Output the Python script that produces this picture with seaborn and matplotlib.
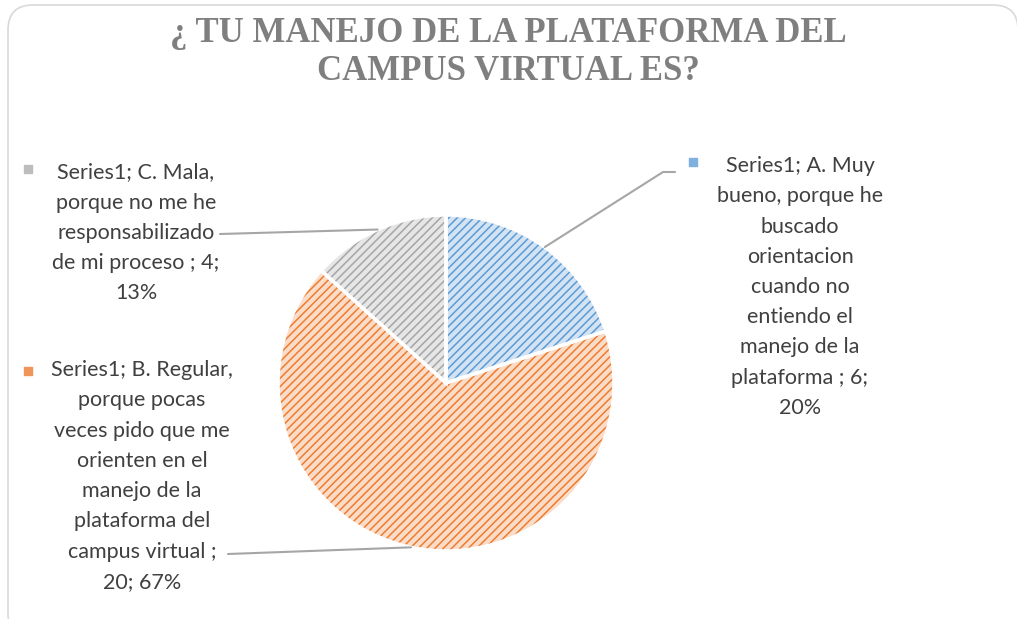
import numpy as np
import matplotlib.pyplot as plt
import seaborn as sns
from matplotlib.patches import Wedge, FancyBboxPatch

# data
categories = ["A. Muy bueno", "B. Regular", "C. Mala"]
counts = [6, 20, 4]
label_texts = [
    "Series1; A. Muy\nbueno, porque he\nbuscado\norientacion\ncuando no\nentiendo el\nmanejo de la\nplataforma ; 6;\n20%",
    "Series1; B. Regular,\nporque pocas\nveces pido que me\norienten en el\nmanejo de la\nplataforma del\ncampus virtual ;\n20; 67%",
    "Series1; C. Mala,\nporque no me he\nresponsabilizado\nde mi proceso ; 4;\n13%",
]
title_lines = ["¿ TU MANEJO DE LA PLATAFORMA DEL", "CAMPUS VIRTUAL ES?"]

fill_colors = ["#d3e3f4", "#fbdcc8", "#e6e6e6"]
hatch_colors = ["#5b9bd5", "#ed7d31", "#a5a5a5"]
marker_colors = ["#7fb0e0", "#f0955a", "#bdbdbd"]

sns.set_theme(style="white")
plt.rcParams["hatch.linewidth"] = 1.1
plt.rcParams["font.family"] = ["Lato", "DejaVu Sans"]

W, H = 1017, 619
fig = plt.figure(figsize=(W / 100, H / 100), dpi=100)
ax = fig.add_axes([0, 0, 1, 1])

# outer rounded frame
frame = FancyBboxPatch((8, -20), 1010, 634, boxstyle="round,pad=0,rounding_size=25",
                       fc="white", ec="#d9d9d9", lw=1.2, zorder=0)
ax.add_patch(frame)

cx, cy, r = 446, H - 383, 168
wedges, _ = ax.pie(counts, startangle=90, counterclock=False, center=(cx, cy), radius=r,
                   colors=fill_colors, wedgeprops=dict(linewidth=0))
for w, hc in zip(wedges, hatch_colors):
    ax.add_patch(Wedge(w.center, w.r, w.theta1, w.theta2, fill=False, hatch="////",
                       edgecolor=hc, lw=0, zorder=3))
    ax.add_patch(Wedge(w.center, w.r, w.theta1, w.theta2, fill=False,
                       edgecolor="white", lw=2.5, zorder=4))

# labels, markers and leader lines
label_pos = [(800, H - 287), (142, H - 476), (136, H - 233)]
marker_pos = [(693, H - 162), (28, H - 371), (28, H - 169)]
line_ends = [[(663, H - 172), (675, H - 172)], [(228, H - 554)], [(220, H - 234)]]
for w, txt, (lx, ly), (mx, my), ends, mc in zip(wedges, label_texts, label_pos, marker_pos,
                                                line_ends, marker_colors):
    mid = np.deg2rad((w.theta1 + w.theta2) / 2)
    px, py = cx + r * np.cos(mid), cy + r * np.sin(mid)
    xs = [px] + [e[0] for e in ends]
    ys = [py] + [e[1] for e in ends]
    ax.plot(xs, ys, color="#a6a6a6", lw=1.5, zorder=5)
    ax.text(lx, ly, txt, ha="center", va="center", multialignment="center", fontsize=15.5,
            color="#404040", linespacing=1.64)
    ax.scatter([mx], [my], marker="s", s=30, color=mc, zorder=5)

# title
for line, ty in zip(title_lines, [33, 72]):
    ax.text(508, H - ty, line, ha="center", va="center", fontsize=25, fontweight="bold",
            family="Liberation Serif", color="#7f7f7f")

ax.set_xlim(0, W)
ax.set_ylim(0, H)
ax.axis("off")
fig.savefig("out.png", dpi=100)
